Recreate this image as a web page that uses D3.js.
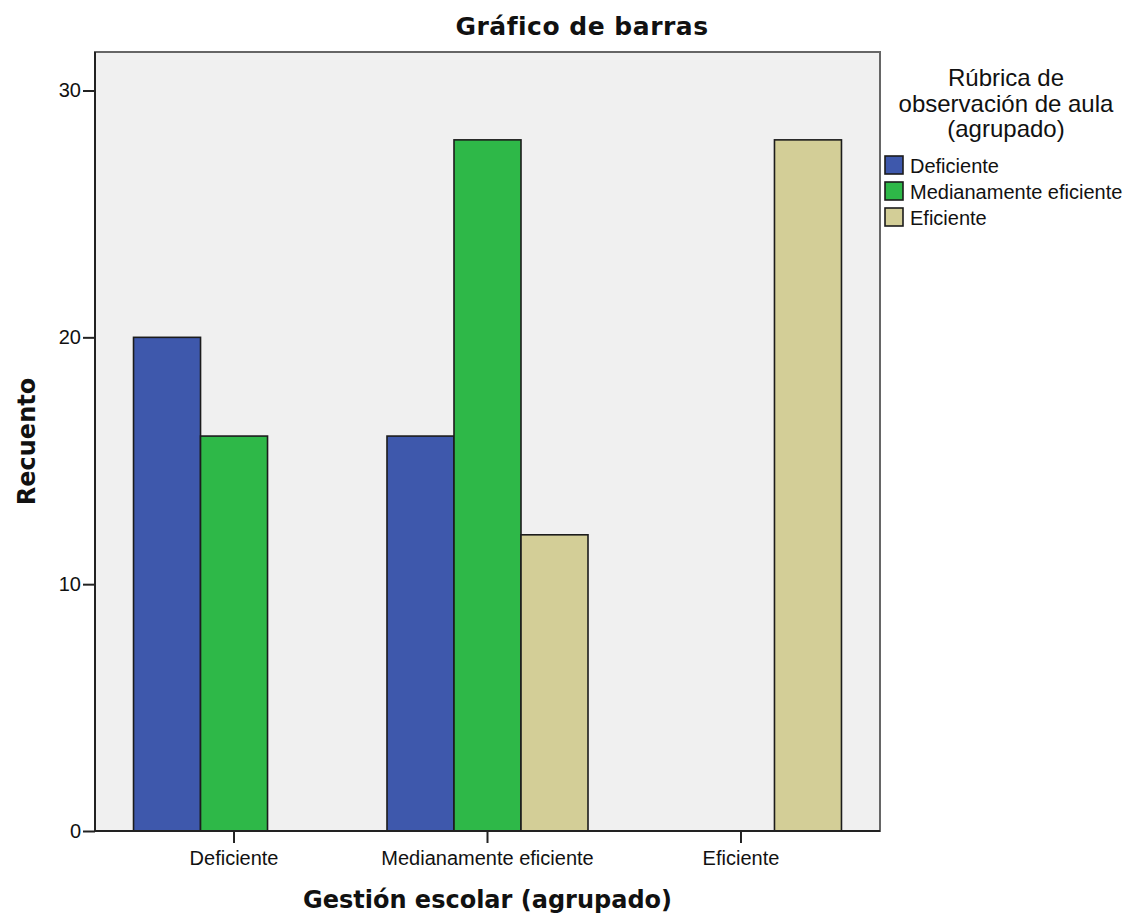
<!DOCTYPE html>
<html>
<head>
<meta charset="utf-8">
<script src="https://cdn.jsdelivr.net/npm/d3@7"></script>
<style>
  body { margin: 0; background: #fff; }
  text { font-family: "Liberation Sans", Arial, sans-serif; fill: #111; }
  .bold { font-family: "DejaVu Sans", sans-serif; font-weight: bold; }
</style>
</head>
<body>
<svg id="viz" width="1129" height="918"></svg>
<script>
// categories on the x axis (Gestión escolar) and the legend series (Rúbrica)
var gestionCats = ["Deficiente", "Medianamente eficiente", "Eficiente"];
var rubricaCats = ["Deficiente", "Medianamente eficiente", "Eficiente"];

// counts per rubrica level, one value per gestion category
var rubricaDeficiente = [20, 16, 0];
var rubricaMedianamente = [16, 28, 0];
var rubricaEficiente = [0, 12, 28];

var yTicks = [0, 10, 20, 30];
var colors = ["#3e58ac", "#2eb848", "#d3ce97"];

var series = [rubricaDeficiente, rubricaMedianamente, rubricaEficiente];

var plot = { left: 95, right: 880, top: 52, bottom: 831 };
var svg = d3.select("#viz");

var x0 = d3.scaleBand()
    .domain(gestionCats)
    .range([plot.left, plot.right])
    .paddingInner(0.207)
    .paddingOuter(0.152);

var x1 = d3.scaleBand()
    .domain(rubricaCats)
    .range([0, x0.bandwidth()]);

var y = d3.scaleLinear()
    .domain([0, 31.56])
    .range([plot.bottom, plot.top]);

// plot background and frame
svg.append("rect")
    .attr("x", plot.left)
    .attr("y", plot.top)
    .attr("width", plot.right - plot.left)
    .attr("height", plot.bottom - plot.top)
    .attr("fill", "#f0f0f0")
    .attr("stroke", "#666")
    .attr("stroke-width", 2);

// flatten into bar records, skip zero counts like SPSS does
var bars = [];
series.forEach(function (vals, si) {
    vals.forEach(function (v, ci) {
        if (v > 0) {
            bars.push({ gestion: gestionCats[ci], rubrica: rubricaCats[si], value: v, color: colors[si] });
        }
    });
});

svg.append("g").selectAll("rect")
    .data(bars)
    .enter().append("rect")
    .attr("x", function (d) { return x0(d.gestion) + x1(d.rubrica); })
    .attr("y", function (d) { return y(d.value); })
    .attr("width", x1.bandwidth())
    .attr("height", function (d) { return y(0) - y(d.value); })
    .attr("fill", function (d) { return d.color; })
    .attr("stroke", "#1c1c1c")
    .attr("stroke-width", 1.6);

// axes
var yAxis = svg.append("g")
    .attr("transform", "translate(" + plot.left + ",0)")
    .call(d3.axisLeft(y).tickValues(yTicks).tickSize(12).tickPadding(2).tickFormat(d3.format("d")));

var xAxis = svg.append("g")
    .attr("transform", "translate(0," + plot.bottom + ")")
    .call(d3.axisBottom(x0).tickSize(12).tickPadding(8).tickSizeOuter(0));

[yAxis, xAxis].forEach(function (ax) {
    ax.select(".domain").attr("stroke", "#222").attr("stroke-width", 2);
    ax.selectAll(".tick line").attr("stroke", "#222").attr("stroke-width", 2);
    ax.selectAll(".tick text")
        .style("font-family", "'Liberation Sans', Arial, sans-serif")
        .style("font-size", "20px")
        .attr("fill", "#111");
});
yAxis.select(".domain").attr("d", "M0," + plot.top + "V" + plot.bottom);
xAxis.select(".domain").attr("d", "M" + plot.left + ",0H" + plot.right);

// titles
svg.append("text")
    .attr("class", "bold")
    .attr("x", 582)
    .attr("y", 35)
    .attr("text-anchor", "middle")
    .style("font-size", "25px")
    .style("letter-spacing", "0.5px")
    .text("Gráfico de barras");

svg.append("text")
    .attr("class", "bold")
    .attr("x", (plot.left + plot.right) / 2)
    .attr("y", 908)
    .attr("text-anchor", "middle")
    .style("font-size", "24px")
    .text("Gestión escolar (agrupado)");

svg.append("text")
    .attr("class", "bold")
    .attr("transform", "translate(35," + ((plot.top + plot.bottom) / 2) + ") rotate(-90)")
    .attr("text-anchor", "middle")
    .style("font-size", "24px")
    .text("Recuento");

// legend
var legend = svg.append("g");
var legendTitle = ["Rúbrica de", "observación de aula", "(agrupado)"];
legend.selectAll("text.lt")
    .data(legendTitle)
    .enter().append("text")
    .attr("class", "lt")
    .attr("x", 1006)
    .attr("y", function (d, i) { return 86 + i * 25.5; })
    .attr("text-anchor", "middle")
    .style("font-size", "24px")
    .text(function (d) { return d; });

var items = legend.selectAll("g.item")
    .data(rubricaCats)
    .enter().append("g")
    .attr("class", "item")
    .attr("transform", function (d, i) { return "translate(885," + (156 + i * 26) + ")"; });

items.append("rect")
    .attr("width", 18)
    .attr("height", 18)
    .attr("fill", function (d, i) { return colors[i]; })
    .attr("stroke", "#1c1c1c")
    .attr("stroke-width", 1.6);

items.append("text")
    .attr("x", 25)
    .attr("y", 17)
    .style("font-size", "20px")
    .text(function (d) { return d; });
</script>
</body>
</html>
